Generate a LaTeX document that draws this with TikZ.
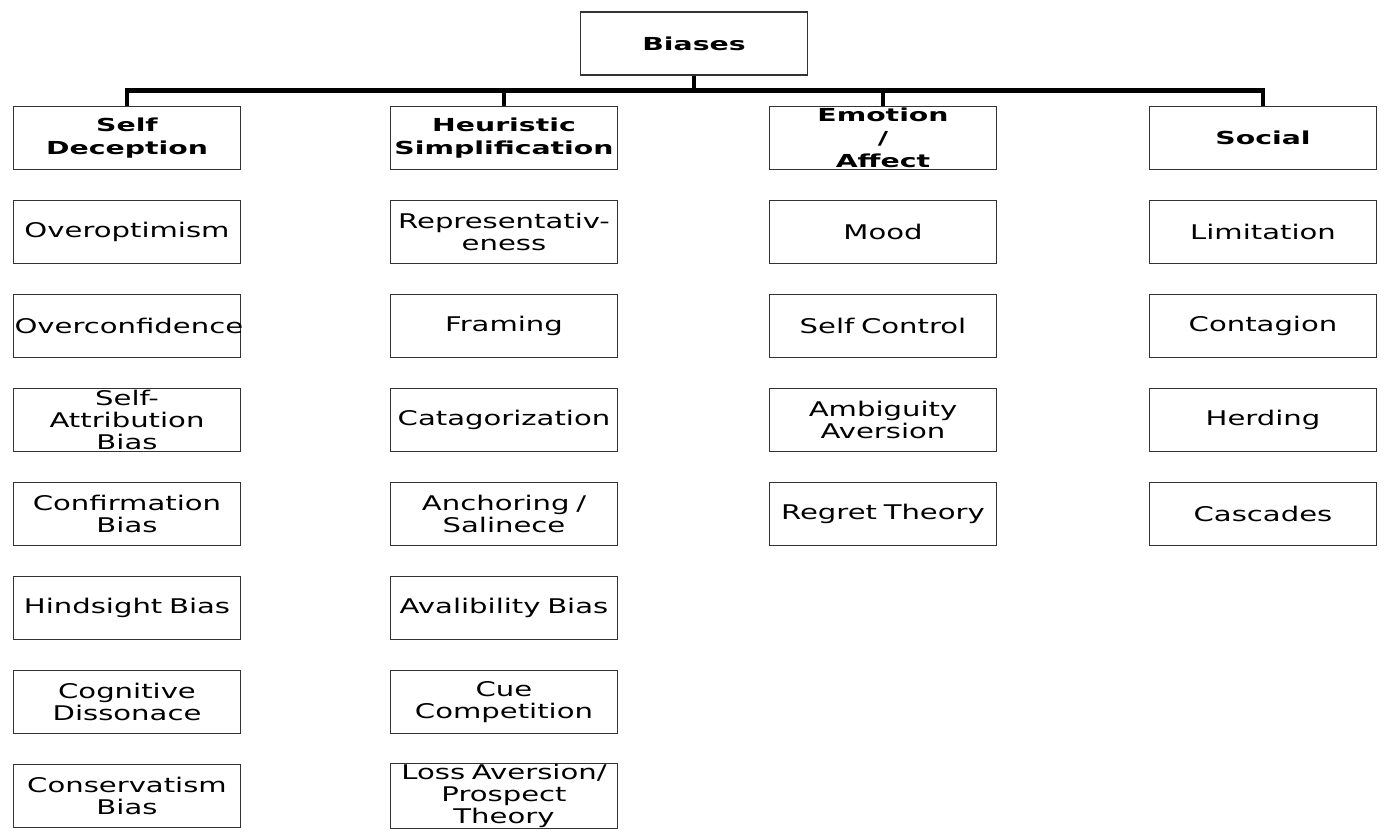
\documentclass[tikz,border=0pt]{standalone}
\usepackage{fontspec}
\setmainfont{DejaVu Sans}[FakeStretch=1.44]
\newfontfamily\headfont{DejaVu Sans}[FakeStretch=1.58]
\usetikzlibrary{positioning}

\begin{document}
\begin{tikzpicture}[x=0.02cm, y=-0.02cm,
        box/.style={draw=black!80, line width=0.6pt, text width=4.5cm,
                      inner sep=0.02cm, minimum height=1.26cm, align=center,
                      font=\fontsize{11.5}{12.6}\selectfont},
        head/.style={box, font=\headfont\fontsize{10.2}{13}\selectfont\bfseries},
        link/.style={line width=2.3pt, line join=miter}
      ]
        \useasboundingbox (0,0) rectangle (1387,837);

        \node[head] (root) at (694,43.5) {Biases};

        \node[head] (sd) at (127,138) {Self\\Deception};
        \node[head] (hs) at (504,138) {Heuristic\\Simplification};
        \node[head] (ea) at (883,138) {Emotion\\/\\Affect};
        \node[head] (so) at (1263,138) {Social};

        % self deception
        \node[box] (sd1) at (127,232) {Overoptimism};
        \node[box] (sd2) at (127,326) {Overconfidence};
        \node[box] (sd3) at (127,420) {Self-\\Attribution\\Bias};
        \node[box] (sd4) at (127,514) {Confirmation\\Bias};
        \node[box] (sd5) at (127,608) {Hindsight Bias};
        \node[box] (sd6) at (127,702) {Cognitive\\Dissonace};
        \node[box] (sd7) at (127,796) {Conservatism\\Bias};

        % heuristic simplification
        \node[box] (hs1) at (504,232) {Representativ-\\eness};
        \node[box] (hs2) at (504,326) {Framing};
        \node[box] (hs3) at (504,420) {Catagorization};
        \node[box] (hs4) at (504,514) {Anchoring /\\Salinece};
        \node[box] (hs5) at (504,608) {Avalibility Bias};
        \node[box] (hs6) at (504,702) {Cue\\Competition};
        \node[box] (hs7) at (504,796) {Loss Aversion/\\Prospect\\Theory};

        % emotion / affect
        \node[box] (ea1) at (883,232) {Mood};
        \node[box] (ea2) at (883,326) {Self Control};
        \node[box] (ea3) at (883,420) {Ambiguity\\Aversion};
        \node[box] (ea4) at (883,514) {Regret Theory};

        % social
        \node[box] (so1) at (1263,232) {Limitation};
        \node[box] (so2) at (1263,326) {Contagion};
        \node[box] (so3) at (1263,420) {Herding};
        \node[box] (so4) at (1263,514) {Cascades};

        \draw[link] (root.south) -- ++(0,15) -| (sd.north);
        \draw[link] (root.south) -- ++(0,15) -| (hs.north);
        \draw[link] (root.south) -- ++(0,15) -| (ea.north);
        \draw[link] (root.south) -- ++(0,15) -| (so.north);
      \end{tikzpicture}
\end{document}
